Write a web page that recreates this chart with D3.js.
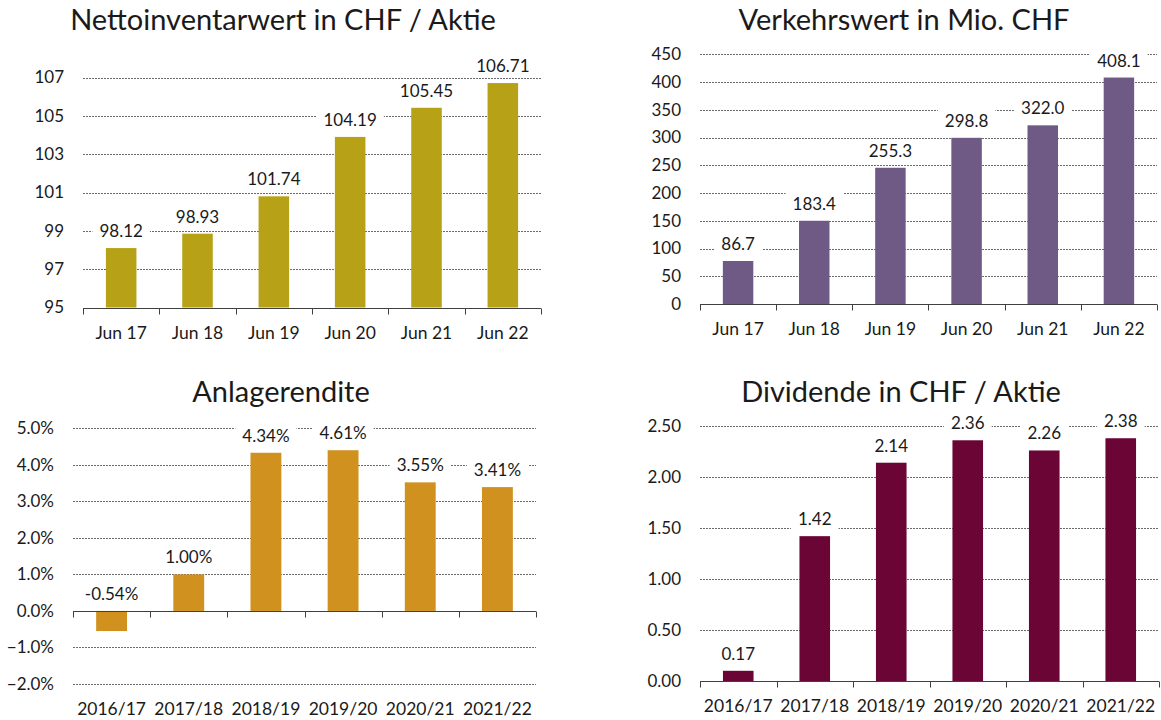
<!DOCTYPE html>
<html>
<head>
<meta charset="utf-8">
<script src="https://cdn.jsdelivr.net/npm/d3@7"></script>
<style>
  body { margin: 0; background: #fff; }
  svg { display: block; font-family: Lato, "Open Sans", sans-serif; }
</style>
</head>
<body>
<script>
var width = 1161;
var height = 720;

// categories
var months = ['Jun 17', 'Jun 18', 'Jun 19', 'Jun 20', 'Jun 21', 'Jun 22'];
var years = ['2016/17', '2017/18', '2018/19', '2019/20', '2020/21', '2021/22'];

// bar heights as drawn, and the labels printed over them
var navBars = [98.1, 98.85, 100.8, 103.9, 105.42, 106.71];
var navLabels = ['98.12', '98.93', '101.74', '104.19', '105.45', '106.71'];

var marketBars = [77.5, 150, 245.5, 299.5, 322.0, 408.1];
var marketLabels = ['86.7', '183.4', '255.3', '298.8', '322.0', '408.1'];

var returnBars = [-0.55, 1.0, 4.33, 4.4, 3.52, 3.39];
var returnLabels = ['-0.54%', '1.00%', '4.34%', '4.61%', '3.55%', '3.41%'];

var dividendBars = [0.1, 1.42, 2.14, 2.36, 2.26, 2.38];
var dividendLabels = ['0.17', '1.42', '2.14', '2.36', '2.26', '2.38'];

// tick values
var navTicks = [95, 97, 99, 101, 103, 105, 107];
var marketTicks = [0, 50, 100, 150, 200, 250, 300, 350, 400, 450];
var returnTicks = [-2, -1, 0, 1, 2, 3, 4, 5];
var dividendTicks = [0, 0.5, 1, 1.5, 2, 2.5];

var svg = d3.select('body')
  .append('svg')
  .attr('width', width)
  .attr('height', height);

var textColor = '#1a1a1a';

function drawChart(opt) {
  var g = svg.append('g');

  var x = d3.scaleBand()
    .domain(opt.categories)
    .range([opt.left, opt.right])
    .paddingInner(0.6)
    .paddingOuter(0.3);

  var y = d3.scaleLinear()
    .domain([opt.ticks[0], opt.ticks[opt.ticks.length - 1]])
    .range([opt.bottom, opt.top]);

  // title
  g.append('text')
    .attr('x', opt.titleX)
    .attr('y', opt.titleY)
    .attr('text-anchor', 'middle')
    .attr('font-size', 29)
    .attr('fill', textColor)
    .text(opt.title);

  // dotted gridlines (skip the baseline where the axis sits)
  g.selectAll('.grid')
    .data(opt.ticks.filter(function(d) { return d !== opt.base; }))
    .enter().append('line')
    .attr('x1', opt.left)
    .attr('x2', opt.right)
    .attr('y1', function(d) { return Math.round(y(d)) + 0.5; })
    .attr('y2', function(d) { return Math.round(y(d)) + 0.5; })
    .attr('stroke', '#6a6a6a')
    .attr('stroke-width', 1)
    .attr('stroke-dasharray', '2,1');

  // y tick labels
  g.selectAll('.ylab')
    .data(opt.ticks)
    .enter().append('text')
    .attr('x', opt.left - 19)
    .attr('y', function(d) { return y(d); })
    .attr('dy', '0.35em')
    .attr('text-anchor', 'end')
    .attr('font-size', 17)
    .attr('fill', textColor)
    .text(opt.format);

  // bars
  var base = y(opt.base);
  g.selectAll('.bar')
    .data(opt.bars)
    .enter().append('rect')
    .attr('x', function(d, i) { return x(opt.categories[i]); })
    .attr('width', x.bandwidth())
    .attr('y', function(d) { return Math.min(y(d), base); })
    .attr('height', function(d) { return Math.abs(y(d) - base); })
    .attr('fill', opt.color);

  // category axis
  var axisY = Math.round(base) + 0.5;
  g.append('line')
    .attr('x1', opt.left).attr('x2', opt.right)
    .attr('y1', axisY).attr('y2', axisY)
    .attr('stroke', '#404040');
  var bounds = opt.categories.map(function(c) { return x(c) - x.step() * x.paddingInner() / 2; });
  bounds[0] = opt.left;
  bounds.push(opt.right);
  g.selectAll('.tick')
    .data(bounds)
    .enter().append('line')
    .attr('x1', function(d) { return Math.round(d) + 0.5; })
    .attr('x2', function(d) { return Math.round(d) + 0.5; })
    .attr('y1', axisY).attr('y2', axisY + 6)
    .attr('stroke', '#404040');

  g.selectAll('.xlab')
    .data(opt.categories)
    .enter().append('text')
    .attr('x', function(d) { return x(d) + x.bandwidth() / 2; })
    .attr('y', opt.bottom + 31)
    .attr('text-anchor', 'middle')
    .attr('font-size', 17.5)
    .attr('fill', textColor)
    .text(function(d) { return d; });

  // data labels with white boxes
  var labels = g.selectAll('.dl')
    .data(opt.bars)
    .enter().append('g')
    .attr('transform', function(d, i) {
      var top = Math.min(y(d), base);
      return 'translate(' + (x(opt.categories[i]) + x.bandwidth() / 2) + ',' + (top - 17) + ')';
    });
  labels.append('rect')
    .attr('fill', '#fff');
  labels.append('text')
    .attr('text-anchor', 'middle')
    .attr('dy', '0.35em')
    .attr('font-size', 17)
    .attr('fill', textColor)
    .text(function(d, i) { return opt.labels[i]; });
  labels.each(function() {
    var t = d3.select(this).select('text').node().getBBox();
    d3.select(this).select('rect')
      .attr('x', -t.width / 2 - 7)
      .attr('y', -11)
      .attr('width', t.width + 14)
      .attr('height', 22);
  });
}

drawChart({
  title: 'Nettoinventarwert in CHF / Aktie', titleX: 283, titleY: 30,
  categories: months, bars: navBars, labels: navLabels, ticks: navTicks, base: 95,
  format: d3.format('d'), color: '#b7a116',
  left: 83, right: 541, top: 77.5, bottom: 307.5
});

drawChart({
  title: 'Verkehrswert in Mio. CHF', titleX: 904, titleY: 30,
  categories: months, bars: marketBars, labels: marketLabels, ticks: marketTicks, base: 0,
  format: d3.format('d'), color: '#6f5a86',
  left: 700, right: 1157, top: 54.3, bottom: 304
});

drawChart({
  title: 'Anlagerendite', titleX: 281, titleY: 402,
  categories: years, bars: returnBars, labels: returnLabels, ticks: returnTicks, base: 0,
  format: function(d) { return d3.format('.1f')(d) + '%'; }, color: '#d0911f',
  left: 73, right: 536, top: 428.3, bottom: 684
});

drawChart({
  title: 'Dividende in CHF / Aktie', titleX: 901, titleY: 402,
  categories: years, bars: dividendBars, labels: dividendLabels, ticks: dividendTicks, base: 0,
  format: d3.format('.2f'), color: '#6a0535',
  left: 700, right: 1159, top: 426, bottom: 681
});
</script>
</body>
</html>
